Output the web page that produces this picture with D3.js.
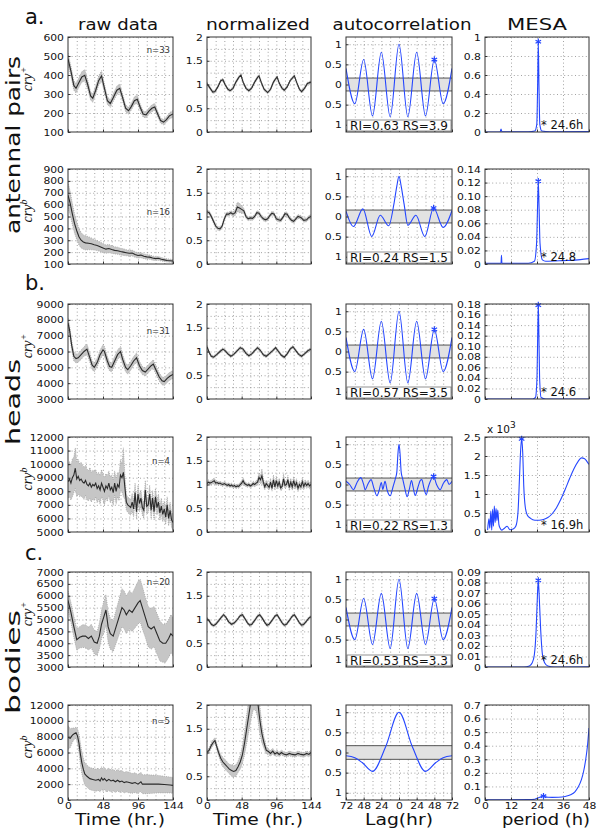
<!DOCTYPE html>
<html>
<head>
<meta charset="utf-8">
<script src="https://cdn.jsdelivr.net/npm/d3@7"></script>
<style>
body { margin: 0; background: #fff; }
svg text { font-family: "DejaVu Sans", Arial, sans-serif; fill: #111; }
</style>
</head>
<body>
<script>
// ---------- data ----------
const tissueLabels = ["antennal pairs", "heads", "bodies"];
const panelLetters = ["a.", "b.", "c."];
const genotypes = ["+", "b", "+", "b", "+", "b"];
const nLabels = ["n=33", "n=16", "n=31", "n=4", "n=20", "n=5"];
const riLabels = ["RI=0.63 RS=3.9", "RI=0.24 RS=1.5", "RI=0.57 RS=3.5", "RI=0.22 RS=1.3", "RI=0.53 RS=3.3", null];
const mesaLabels = ["* 24.6h", "* 24.8", "* 24.6", "* 16.9h", "* 24.6h", null];

const timeTicks = [0, 48, 96, 144];
const lagTicks = [-72, -48, -24, 0, 24, 48, 72];
const periodTicks = [0, 12, 24, 36, 48];
const normTicks = [0, 0.5, 1, 1.5, 2];
const acfTicks = [-1, -0.5, 0, 0.5, 1];

const rawTicks = [
  [100, 200, 300, 400, 500, 600],
  [100, 200, 300, 400, 500, 600, 700, 800, 900],
  [3000, 4000, 5000, 6000, 7000, 8000, 9000],
  [5000, 6000, 7000, 8000, 9000, 10000, 11000, 12000],
  [3000, 3500, 4000, 4500, 5000, 5500, 6000, 6500, 7000],
  [0, 2000, 4000, 6000, 8000, 10000, 12000]
];
const mesaTicks = [
  [0, 0.2, 0.4, 0.6, 0.8, 1],
  [0, 0.02, 0.04, 0.06, 0.08, 0.10, 0.12, 0.14],
  [0, 0.02, 0.04, 0.06, 0.08, 0.10, 0.12, 0.14, 0.16, 0.18],
  [0, 0.5, 1, 1.5, 2, 2.5],
  [0, 0.01, 0.02, 0.03, 0.04, 0.05, 0.06, 0.07, 0.08, 0.09],
  [0, 0.1, 0.2, 0.3, 0.4, 0.5, 0.6, 0.7]
];
const mesaTickText = [
  ["0", "0.2", "0.4", "0.6", "0.8", "1"],
  ["0", "0.02", "0.04", "0.06", "0.08", "0.10", "0.12", "0.14"],
  ["0", "0.02", "0.04", "0.06", "0.08", "0.10", "0.12", "0.14", "0.16", "0.18"],
  ["0", "0.5", "1", "1.5", "2", "2.5"],
  ["0", "0.01", "0.02", "0.03", "0.04", "0.05", "0.06", "0.07", "0.08", "0.09"],
  ["0", "0.1", "0.2", "0.3", "0.4", "0.5", "0.6", "0.7"]
];

// raw data: [time, mean, error]
const rawAntPlus = [[0,485,30],[4,420,28],[8,345,25],[11,330,25],[15,360,25],[19,390,28],[23,398,30],[27,350,25],[31,290,22],[34,278,22],[38,320,22],[42,370,25],[46,395,28],[50,330,22],[54,265,20],[58,250,20],[62,280,20],[67,320,22],[71,330,22],[75,280,20],[79,225,18],[83,212,18],[87,235,18],[91,265,20],[95,272,22],[99,230,18],[103,195,16],[107,190,16],[111,210,16],[115,225,18],[119,232,18],[123,195,16],[127,160,14],[131,152,14],[135,165,14],[139,185,16],[144,195,18]];
const rawAntB = [[0,680,110],[3,610,100],[6,520,90],[9,440,80],[12,380,75],[15,330,70],[18,300,65],[21,285,60],[24,278,60],[28,275,55],[32,270,50],[36,262,45],[40,255,42],[44,245,40],[48,235,38],[52,225,35],[56,230,35],[60,222,32],[64,215,30],[68,212,30],[72,205,28],[76,200,28],[80,195,26],[84,190,25],[88,192,25],[92,180,24],[96,172,22],[100,175,22],[104,165,20],[108,160,20],[112,158,18],[116,150,18],[120,145,16],[124,148,16],[128,140,15],[132,135,14],[136,130,14],[140,128,13],[144,125,12]];
const rawHeadPlus = [[0,7800,300],[2,7400,300],[5,6400,300],[8,5700,300],[11,5550,280],[14,5600,280],[18,5800,300],[22,6000,300],[26,6150,320],[30,5600,300],[33,5150,280],[36,5000,280],[40,5300,280],[44,5800,300],[48,6100,320],[50,6000,320],[54,5400,300],[57,5050,280],[60,5000,280],[64,5400,300],[68,5800,300],[72,6000,320],[75,5500,300],[79,5000,280],[82,4850,280],[86,5100,280],[90,5400,280],[94,5600,300],[98,5100,280],[102,4800,260],[106,4700,260],[110,4900,260],[114,5100,260],[117,5200,280],[121,4800,260],[125,4400,260],[129,4150,250],[132,4100,250],[136,4300,250],[140,4450,250],[144,4550,250]];
const headBTimes = d3.range(0, 145, 2);
const rawHeadBMean = [8700,8900,8600,9000,9200,9700,8900,9100,8800,8900,
  8700,8600,8800,8500,8400,8600,8300,8500,8400,8600,
  8200,8400,8100,8600,8300,8000,8400,8200,8600,8100,
  8300,7900,8600,8000,8500,8300,9200,9000,9400,8300,
  7200,7000,6900,6800,7200,6700,7900,6500,7800,7100,
  7500,6800,6600,8100,6900,7000,7800,6600,7500,6500,
  7600,6800,7200,6400,6900,6300,6700,6100,7000,6000,
  6600,5900,5700];
const rawHeadBErr = [1200,1300,1250,1400,1300,1500,1300,1250,1200,1250,
  1150,1200,1100,1150,1100,1150,1100,1050,1100,1000,
  1050,1000,1050,1000,950,1000,900,950,900,950,
  900,950,900,950,900,1000,1100,1000,1800,900,
  600,550,600,550,650,600,700,550,650,600,
  600,550,600,700,600,550,650,600,550,600,
  600,550,600,550,600,550,600,550,600,550,
  600,550,600];
const rawBodyPlus = [[0,5800,400],[4,5300,420],[8,4700,450],[12,4150,450],[16,4250,450],[20,4300,480],[24,4300,480],[28,4200,480],[32,4300,500],[36,4050,500],[40,4000,500],[43,4300,550],[46,4800,600],[49,5100,650],[52,5400,650],[55,4700,650],[58,4400,650],[62,4300,650],[66,4700,700],[70,5100,750],[74,5500,800],[77,5400,800],[80,5200,800],[84,5400,800],[88,5300,800],[92,5500,850],[96,5700,900],[99,5800,900],[102,5500,900],[106,5100,850],[110,4700,850],[114,4600,850],[118,4700,850],[122,4400,850],[126,4100,850],[130,4000,800],[134,4000,800],[138,4200,800],[141,4400,800],[144,4300,800]];
const rawBodyB = [[0,7900,1500],[3,7800,1200],[6,8200,900],[9,8400,700],[11,8500,700],[13,8100,900],[15,7200,1200],[17,5800,1400],[19,4700,1400],[21,3900,1400],[23,3300,1400],[26,3000,1400],[30,2700,1400],[34,2600,1400],[38,2500,1400],[42,2600,1400],[44,2400,1400],[46,2800,1400],[48,2500,1400],[50,2700,1400],[53,2400,1400],[56,2600,1400],[59,2400,1400],[62,2500,1350],[65,2300,1350],[68,2500,1350],[71,2300,1350],[74,2400,1300],[77,2200,1300],[80,2300,1300],[84,2200,1300],[88,2100,1250],[92,2200,1250],[96,2000,1200],[100,2300,1200],[102,2000,1200],[108,2000,1200],[116,2000,1150],[124,2000,1100],[132,1950,1050],[140,1900,1000],[144,1850,1000]];

// normalized: [time, mean, error]
const normAntPlus = [[0,1.02,0.03],[4,0.93,0.03],[8,0.84,0.03],[11,0.85,0.03],[15,0.95,0.03],[19,1.08,0.03],[22,1.1,0.03],[25,1.0,0.03],[29,0.9,0.03],[32,0.87,0.03],[36,0.92,0.03],[40,1.05,0.03],[44,1.15,0.03],[47,1.2,0.03],[50,1.05,0.03],[54,0.92,0.03],[58,0.87,0.03],[62,0.93,0.03],[66,1.05,0.03],[70,1.15,0.03],[72,1.18,0.03],[75,1.05,0.03],[79,0.9,0.03],[84,0.83,0.03],[88,0.9,0.03],[92,1.05,0.03],[95,1.12,0.03],[97,1.16,0.03],[100,1.03,0.03],[104,0.92,0.03],[107,0.88,0.03],[111,0.95,0.03],[115,1.08,0.03],[119,1.15,0.03],[121,1.18,0.03],[124,1.05,0.03],[128,0.9,0.03],[131,0.85,0.03],[135,0.92,0.03],[139,1.02,0.03],[144,1.05,0.03]];
const normAntB = [[0,1.1,0.04],[3,1.08,0.04],[6,1.0,0.04],[9,0.9,0.04],[12,0.8,0.04],[15,0.75,0.04],[18,0.74,0.04],[21,0.8,0.04],[24,0.95,0.04],[27,1.05,0.04],[30,1.05,0.04],[33,1.08,0.04],[36,1.05,0.05],[39,1.08,0.06],[42,1.2,0.1],[45,1.18,0.1],[48,1.15,0.08],[51,1.12,0.05],[54,1.0,0.04],[57,0.95,0.04],[60,0.97,0.04],[63,0.96,0.04],[66,1.0,0.04],[69,1.08,0.04],[72,1.07,0.04],[75,1.0,0.04],[78,0.95,0.04],[81,0.93,0.04],[84,0.95,0.04],[87,1.02,0.04],[90,1.07,0.04],[93,1.05,0.04],[96,0.95,0.04],[99,0.93,0.04],[102,0.92,0.04],[105,0.98,0.04],[108,1.06,0.04],[111,1.05,0.04],[114,0.97,0.04],[117,0.92,0.04],[120,0.9,0.04],[123,0.95,0.04],[126,1.0,0.04],[130,0.98,0.04],[134,0.92,0.04],[138,0.93,0.04],[141,0.98,0.04],[144,1.0,0.04]];
const normHeadPlus = [[0,1.1,0.03],[3,0.98,0.03],[6,0.9,0.03],[9,0.88,0.03],[13,0.93,0.03],[18,1.0,0.03],[22,1.05,0.03],[25,1.02,0.03],[29,0.95,0.03],[33,0.9,0.03],[37,0.94,0.03],[42,1.02,0.03],[46,1.08,0.03],[50,1.05,0.03],[54,0.96,0.03],[58,0.91,0.03],[62,0.95,0.03],[66,1.02,0.03],[70,1.08,0.03],[74,1.02,0.03],[78,0.93,0.03],[82,0.9,0.03],[86,0.95,0.03],[91,1.02,0.03],[95,1.08,0.03],[99,1.0,0.03],[103,0.92,0.03],[107,0.88,0.03],[111,0.95,0.03],[115,1.05,0.03],[119,1.1,0.03],[123,1.02,0.03],[127,0.94,0.03],[131,0.9,0.03],[135,0.95,0.03],[140,1.02,0.03],[144,1.05,0.03]];
const normHeadBMean = [1.02,1.05,1.03,1.04,1.06,1.08,1.03,1.04,1.02,1.03,
  1.01,1.0,1.02,1.0,0.98,1.0,0.97,0.99,0.96,0.98,
  0.95,0.97,0.96,1.0,1.03,1.08,1.02,1.0,0.98,1.0,
  0.97,0.99,1.02,1.0,1.03,1.05,1.15,1.1,1.18,1.05,
  0.95,1.02,0.98,0.94,1.05,0.92,1.1,0.95,1.08,0.97,
  1.05,0.93,0.96,1.12,0.98,1.0,1.1,0.94,1.05,0.95,
  1.08,0.97,1.04,0.92,1.0,0.95,1.06,0.96,1.03,0.98,
  1.02,0.97,1.0];
const normHeadBErr = [0.04,0.05,0.04,0.05,0.05,0.06,0.05,0.04,0.04,0.04,
  0.04,0.04,0.04,0.04,0.04,0.04,0.04,0.04,0.04,0.04,
  0.04,0.04,0.04,0.05,0.05,0.06,0.05,0.04,0.04,0.04,
  0.04,0.04,0.05,0.05,0.05,0.06,0.1,0.08,0.15,0.08,
  0.06,0.07,0.06,0.06,0.08,0.06,0.1,0.07,0.1,0.07,
  0.08,0.06,0.07,0.1,0.07,0.06,0.09,0.07,0.08,0.07,
  0.09,0.07,0.08,0.07,0.07,0.06,0.08,0.07,0.07,0.06,
  0.07,0.06,0.06];
const normBodyPlus = [[0,1.02,0.03],[3,0.97,0.03],[6,0.9,0.03],[9,0.87,0.03],[12,0.9,0.03],[16,0.97,0.03],[20,1.05,0.03],[23,1.1,0.03],[26,1.05,0.03],[30,0.95,0.03],[34,0.9,0.03],[38,0.93,0.03],[42,1.0,0.03],[46,1.08,0.03],[49,1.1,0.03],[52,1.03,0.03],[56,0.93,0.03],[59,0.88,0.03],[62,0.9,0.03],[66,0.98,0.03],[70,1.07,0.03],[73,1.1,0.03],[76,1.04,0.03],[80,0.94,0.03],[83,0.88,0.03],[86,0.9,0.03],[90,0.98,0.03],[94,1.07,0.03],[97,1.1,0.03],[100,1.03,0.03],[104,0.93,0.03],[107,0.88,0.03],[110,0.9,0.03],[114,0.98,0.03],[118,1.07,0.03],[121,1.1,0.03],[124,1.03,0.03],[128,0.93,0.03],[131,0.88,0.03],[134,0.9,0.03],[138,0.97,0.03],[141,1.03,0.03],[144,1.06,0.03]];
const normBodyB = [[0,1.0,0.04],[3,1.05,0.05],[6,1.15,0.06],[9,1.22,0.06],[11,1.25,0.06],[13,1.15,0.06],[16,1.0,0.07],[19,0.88,0.08],[22,0.8,0.1],[25,0.75,0.1],[28,0.7,0.1],[31,0.65,0.1],[34,0.62,0.12],[37,0.6,0.12],[40,0.62,0.12],[43,0.7,0.12],[46,0.8,0.15],[49,0.95,0.18],[52,1.2,0.25],[55,1.5,0.3],[58,1.8,0.35],[61,2.1,0.4],[64,2.3,0.4],[67,2.3,0.4],[70,2.1,0.35],[73,1.7,0.3],[76,1.4,0.2],[79,1.2,0.12],[82,1.05,0.08],[85,1.02,0.06],[88,0.98,0.06],[91,1.03,0.06],[94,0.97,0.05],[97,1.0,0.05],[100,0.96,0.05],[103,1.0,0.05],[106,0.97,0.05],[110,0.95,0.05],[114,0.98,0.05],[118,0.96,0.05],[122,0.95,0.05],[126,0.98,0.05],[130,0.96,0.05],[134,0.95,0.05],[138,0.98,0.05],[141,0.96,0.05],[144,1.0,0.05]];

// autocorrelation: [lag, r]
const acfAntPlus = [[-72,0.4],[-60,-0.48],[-48,0.62],[-36,-0.78],[-24,0.8],[-12,-0.8],[0,1],[12,-0.8],[24,0.8],[36,-0.78],[48,0.62],[60,-0.48],[72,0.4]];
const acfAntB = [[-72,0.13],[-62,-0.25],[-49,0.19],[-37,-0.5],[-25.5,0.03],[-14,-0.23],[-7,0.3],[-3,0.75],[0,1],[3,0.75],[7,0.3],[12,-0.22],[23,0.03],[35,-0.5],[47,0.21],[60,-0.27],[72,0.15]];
const acfHeadPlus = [[-72,0.35],[-60,-0.5],[-48,0.55],[-36,-0.68],[-24,0.75],[-12,-0.78],[0,1],[12,-0.78],[24,0.75],[36,-0.68],[48,0.55],[60,-0.5],[72,0.35]];
const acfHeadB = [[-72,0.08],[-67,0.0],[-62,-0.13],[-57,0.05],[-52,0.17],[-48,0.0],[-46,-0.13],[-42,0.02],[-38,0.12],[-34,-0.1],[-30,-0.28],[-27,-0.15],[-24,0.05],[-22,-0.12],[-19,0.08],[-16,-0.15],[-12,-0.28],[-8,-0.05],[-5,0.14],[-3,0.3],[-1.5,0.75],[0,1],[1.5,0.75],[3,0.3],[5,0.14],[8,-0.1],[11,-0.3],[14,-0.12],[17,0.1],[19,-0.05],[22,-0.27],[26,-0.05],[29,0.1],[31,0.12],[34,-0.1],[37,-0.25],[40,-0.05],[43,0.1],[47,0.2],[51,0.0],[56,-0.13],[60,0.02],[65,0.12],[68,0.0],[72,0.08]];
const acfBodyPlus = [[-72,0.3],[-60,-0.5],[-48,0.52],[-36,-0.62],[-24,0.65],[-12,-0.72],[0,1],[12,-0.72],[24,0.65],[36,-0.62],[48,0.52],[60,-0.5],[72,0.3]];
const acfBodyB = [[-72,-0.08],[-60,-0.13],[-50,-0.25],[-36,-0.47],[-18,0.15],[0,1],[18,0.15],[36,-0.47],[50,-0.25],[60,-0.13],[72,-0.08]];
const acfPeaks = [[48,0.62],[47,0.21],[48,0.55],[47,0.2],[48,0.52],null];
const acfBands = [0.16, 0.16, 0.16, 0.16, 0.16, 0.17];

// MESA spectra: [period, power]
const mesaAntPlus = [[0,0],[7,0.002],[7.4,0.03],[7.8,0.002],[20,0.002],[23,0.01],[23.9,0.08],[24.3,0.5],[24.6,0.95],[24.9,0.5],[25.3,0.08],[26.2,0.01],[30,0.003],[48,0.004]];
const mesaAntB = [[0,0.001],[7.4,0.001],[7.6,0.013],[7.8,0.001],[20,0.001],[22.8,0.004],[23.8,0.03],[24.3,0.09],[24.6,0.122],[24.9,0.09],[25.4,0.03],[26.5,0.006],[28,0.004],[36,0.005],[44,0.0065],[48,0.008]];
const mesaHeadPlus = [[0,0],[22,0],[23.3,0.003],[24,0.04],[24.4,0.14],[24.6,0.178],[24.8,0.14],[25.2,0.04],[25.9,0.003],[28,0],[48,0]];
const mesaHeadB = [[1.2,0.05],[1.8,0.35],[2.2,0.1],[2.7,0.55],[3.1,0.05],[3.5,0.6],[3.9,0.15],[4.3,0.68],[4.7,0.25],[5.1,0.62],[5.5,0.3],[5.9,0.58],[6.4,0.2],[7,0.1],[7.8,0.05],[9,0.1],[10.2,0.15],[11.5,0.06],[13,0.08],[14.2,0.15],[15.2,0.5],[15.9,1.4],[16.4,2.1],[16.9,2.45],[17.4,2.1],[17.9,1.2],[18.6,0.65],[19.5,0.45],[21,0.36],[23,0.31],[25,0.31],[27,0.33],[29,0.38],[31,0.48],[33,0.64],[35,0.86],[37,1.12],[39,1.4],[41,1.66],[43,1.86],[44.5,1.95],[46,1.93],[47,1.86],[48,1.78]];
const mesaBodyPlus = [[0,0],[18,0],[20.5,0.001],[21.8,0.004],[22.8,0.012],[23.6,0.035],[24.2,0.068],[24.6,0.082],[25,0.068],[25.7,0.035],[26.5,0.012],[27.5,0.004],[29,0.001],[32,0],[48,0.0003]];
const mesaBodyB = [[0,0.002],[10,0.002],[20,0.003],[23,0.006],[24.5,0.015],[25.5,0.022],[26.5,0.028],[27.5,0.025],[29,0.02],[31,0.019],[34,0.02],[37,0.026],[39.5,0.038],[41.5,0.06],[43,0.095],[44.5,0.15],[45.5,0.21],[46.5,0.3],[47.3,0.4],[48,0.53]];
const mesaPeaks = [[24.6,0.95],[24.6,0.122],[24.6,0.178],[16.9,2.45],[24.6,0.082],[27,0.028]];

const rawSeries = [rawAntPlus, rawAntB, rawHeadPlus,
  headBTimes.map((t, i) => [t, rawHeadBMean[i], rawHeadBErr[i]]), rawBodyPlus, rawBodyB];
const normSeries = [normAntPlus, normAntB, normHeadPlus,
  headBTimes.map((t, i) => [t, normHeadBMean[i], normHeadBErr[i]]), normBodyPlus, normBodyB];
const acfSeries = [acfAntPlus, acfAntB, acfHeadPlus, acfHeadB, acfBodyPlus, acfBodyB];
const mesaSeries = [mesaAntPlus, mesaAntB, mesaHeadPlus, mesaHeadB, mesaBodyPlus, mesaBodyB];

// ---------- layout ----------
const W = 600, H = 830;
const colX = [68, 207, 346, 485], colW = [105, 104, 106, 104];
const rowY = [37, 169, 304, 437, 572, 705], rowH = 95;
const blue = "#2446ff";
const nLabelDy = [16, 46, 30, 27, 13, 19];

const svg = d3.select("body").append("svg").attr("width", W).attr("height", H);
const defs = svg.append("defs");

function makePanel(r, c, xDom, yDom) {
  const x0 = colX[c], w = colW[c], y0 = rowY[r];
  const x = d3.scaleLinear().domain(xDom).range([x0, x0 + w]);
  const y = d3.scaleLinear().domain(yDom).range([y0 + rowH, y0]);
  const id = "clip" + r + "_" + c;
  defs.append("clipPath").attr("id", id).append("rect")
    .attr("x", x0).attr("y", y0).attr("width", w).attr("height", rowH);
  const g = svg.append("g");
  const plot = g.append("g").attr("clip-path", `url(#${id})`);
  return { x, y, g, plot, x0, y0, w };
}

function drawGrid(p, xv, yv) {
  const gx = p.plot.append("g").attr("transform", `translate(0,${p.y0 + rowH})`)
    .call(d3.axisBottom(p.x).tickValues(xv).tickSize(-rowH).tickFormat(""));
  const gy = p.plot.append("g").attr("transform", `translate(${p.x0},0)`)
    .call(d3.axisLeft(p.y).tickValues(yv).tickSize(-p.w).tickFormat(""));
  [gx, gy].forEach(g => {
    g.select(".domain").remove();
    g.selectAll("line").attr("stroke", "#8c8c8c").attr("stroke-width", 0.8)
      .attr("stroke-dasharray", "1,2.6");
  });
}

// tick labels: slightly wide face, like the original figure
function styleTicks(a) {
  a.select(".domain").remove();
  a.selectAll("line").attr("stroke", "#333");
  a.selectAll("text").attr("font-size", 9.4).attr("font-family", "DejaVu Sans, Arial")
    .attr("transform", "scale(1.15,1)");
}

function leftAxis(p, vals, labels) {
  const a = p.g.append("g").attr("transform", `translate(${p.x0},0)`)
    .call(d3.axisLeft(p.y).tickValues(vals).tickFormat((d, i) => labels[i]).tickSize(-2.5).tickPadding(3.5));
  styleTicks(a);
}

function bottomAxis(p, vals, labels) {
  const a = p.g.append("g").attr("transform", `translate(0,${p.y0 + rowH})`)
    .call(d3.axisBottom(p.x).tickValues(vals).tickFormat((d, i) => labels ? labels[i] : "").tickSize(-2.5).tickPadding(2.5));
  styleTicks(a);
}

function box(p) {
  p.g.append("rect").attr("x", p.x0).attr("y", p.y0).attr("width", p.w).attr("height", rowH)
    .attr("fill", "none").attr("stroke", "#333").attr("stroke-width", 1);
}

function bandAndLine(p, data, bandFill, lineColor) {
  const area = d3.area().x(d => p.x(d[0])).y0(d => p.y(d[1] - d[2])).y1(d => p.y(d[1] + d[2]));
  p.plot.append("path").datum(data).attr("d", area).attr("fill", bandFill);
  ["up", "lo"].forEach(k => {
    const edge = d3.line().x(d => p.x(d[0])).y(d => p.y(k === "up" ? d[1] + d[2] : d[1] - d[2]));
    p.plot.append("path").datum(data).attr("d", edge).attr("fill", "none")
      .attr("stroke", "#9a9a9a").attr("stroke-width", 0.7).attr("stroke-dasharray", "1,1.2");
  });
  const line = d3.line().x(d => p.x(d[0])).y(d => p.y(d[1]));
  p.plot.append("path").datum(data).attr("d", line).attr("fill", "none")
    .attr("stroke", lineColor).attr("stroke-width", 1.1);
}

function star(p, pt) {
  const sym = d3.symbol().type(d3.symbolAsterisk || d3.symbolCross).size(28);
  p.g.append("path").attr("d", sym).attr("transform", `translate(${p.x(pt[0])},${p.y(pt[1])})`)
    .attr("fill", "none").attr("stroke", blue).attr("stroke-width", 1.2);
}

const xGridTime = d3.range(12, 144, 12);

for (let r = 0; r < 6; r++) {
  const last = r === 5;

  // raw data
  let p = makePanel(r, 0, [0, 144], [rawTicks[r][0], rawTicks[r][rawTicks[r].length - 1]]);
  drawGrid(p, xGridTime, rawTicks[r]);
  bandAndLine(p, rawSeries[r], "#c6c6c6", "#2a2a2a");
  leftAxis(p, rawTicks[r], rawTicks[r].map(String));
  bottomAxis(p, timeTicks, last ? timeTicks.map(String) : null);
  box(p);
  p.g.append("text").attr("x", p.x0 + p.w - 3).attr("y", p.y0 + nLabelDy[r])
    .attr("text-anchor", "end").attr("font-size", 8.5).style("fill", "#333").text(nLabels[r]);

  // genotype label
  const gl = svg.append("text").attr("transform", `translate(32,${rowY[r] + 42}) rotate(-90)`)
    .attr("text-anchor", "middle").style("font-family", "Liberation Serif, serif")
    .style("font-style", "italic").attr("font-size", 14);
  gl.append("tspan").text("cry").style("font-family", "Liberation Serif, serif");
  gl.append("tspan").attr("baseline-shift", "super").attr("font-size", 10)
    .style("font-family", "Liberation Serif, serif").text(genotypes[r]);

  // normalized
  p = makePanel(r, 1, [0, 144], [0, 2]);
  drawGrid(p, xGridTime, d3.range(0.25, 2, 0.25));
  bandAndLine(p, normSeries[r], "#c6c6c6", "#2a2a2a");
  leftAxis(p, normTicks, ["0", "0.5", "1", "1.5", "2"]);
  bottomAxis(p, timeTicks, last ? timeTicks.map(String) : null);
  box(p);

  // autocorrelation
  p = makePanel(r, 2, [-72, 72], [-1.18, 1.18]);
  drawGrid(p, d3.range(-60, 72, 12), [-1, -0.5, 0.5, 1]);
  const b = acfBands[r];
  p.plot.append("rect").attr("x", p.x(-72)).attr("width", p.x(72) - p.x(-72))
    .attr("y", p.y(b)).attr("height", p.y(-b) - p.y(b)).attr("fill", "#e2e2e2");
  [b, -b].forEach(v => p.plot.append("line").attr("x1", p.x(-72)).attr("x2", p.x(72))
    .attr("y1", p.y(v)).attr("y2", p.y(v)).attr("stroke", "#555").attr("stroke-width", 1));
  const acfLine = d3.line().x(d => p.x(d[0])).y(d => p.y(d[1])).curve(d3.curveMonotoneX);
  p.plot.append("path").datum(acfSeries[r]).attr("d", acfLine).attr("fill", "none")
    .attr("stroke", blue).attr("stroke-width", 1.1);
  leftAxis(p, acfTicks, ["1", "0.5", "0", "0.5", "1"]);
  bottomAxis(p, lagTicks, last ? lagTicks.map(d => String(Math.abs(d))) : null);
  if (acfPeaks[r]) star(p, acfPeaks[r]);
  if (riLabels[r]) {
    p.g.append("rect").attr("x", p.x0 + 1).attr("y", p.y0 + rowH - 12).attr("width", p.w - 2).attr("height", 11)
      .attr("fill", "#fff").attr("stroke", "#777").attr("stroke-width", 0.8);
    p.g.append("text").attr("x", p.x0 + p.w / 2).attr("y", p.y0 + rowH - 2.5)
      .attr("text-anchor", "middle").attr("font-size", 11.5)
      .attr("textLength", 98).attr("lengthAdjust", "spacingAndGlyphs").text(riLabels[r]);
  }
  box(p);

  // MESA
  const mt = mesaTicks[r];
  p = makePanel(r, 3, [0, 48], [0, mt[mt.length - 1]]);
  drawGrid(p, [12, 24, 36], mt);
  const mesaLine = d3.line().x(d => p.x(d[0])).y(d => p.y(d[1])).curve(d3.curveMonotoneX);
  p.plot.append("path").datum(mesaSeries[r]).attr("d", mesaLine).attr("fill", "none")
    .attr("stroke", blue).attr("stroke-width", 1.1);
  leftAxis(p, mt, mesaTickText[r]);
  bottomAxis(p, periodTicks, last ? periodTicks.map(String) : null);
  star(p, mesaPeaks[r]);
  if (mesaLabels[r]) {
    p.g.append("text").attr("x", 541).attr("y", p.y0 + rowH - 3)
      .attr("font-size", 11.5).text(mesaLabels[r]);
  }
  box(p);
  if (r === 3) {
    const t = svg.append("text").attr("x", 487).attr("y", p.y0 - 4).attr("font-size", 10.5);
    t.append("tspan").text("x 10");
    t.append("tspan").attr("dy", -5).attr("font-size", 9).text("3");
  }
}

// column titles
const titles = [["raw data", 118, 80], ["normalized", 258, 104], ["autocorrelation", 402, 139], ["MESA", 537, 60]];
titles.forEach(t => svg.append("text").attr("x", t[1]).attr("y", 30).attr("text-anchor", "middle")
  .attr("font-size", 15).attr("textLength", t[2]).attr("lengthAdjust", "spacingAndGlyphs").text(t[0]));

// bottom axis titles
const xTitles = [["Time (hr.)", 120, 90], ["Time (hr.)", 258, 90], ["Lag(hr)", 399, 68], ["period (h)", 546, 88]];
xTitles.forEach(t => svg.append("text").attr("x", t[1]).attr("y", 825).attr("text-anchor", "middle")
  .attr("font-size", 15.5).attr("textLength", t[2]).attr("lengthAdjust", "spacingAndGlyphs").text(t[0]));

// section letters and tissue labels
const letterY = [24, 290, 560];
panelLetters.forEach((l, i) => svg.append("text").attr("x", 25).attr("y", letterY[i])
  .attr("font-size", 21).text(l));
const tissueY = [145, 402, 662], tissueLen = [178, 86, 104];
tissueLabels.forEach((l, i) => svg.append("text")
  .attr("transform", `translate(20,${tissueY[i]}) rotate(-90)`).attr("text-anchor", "middle")
  .attr("font-size", 19).attr("textLength", tissueLen[i]).attr("lengthAdjust", "spacingAndGlyphs").text(l));
</script>
</body>
</html>
